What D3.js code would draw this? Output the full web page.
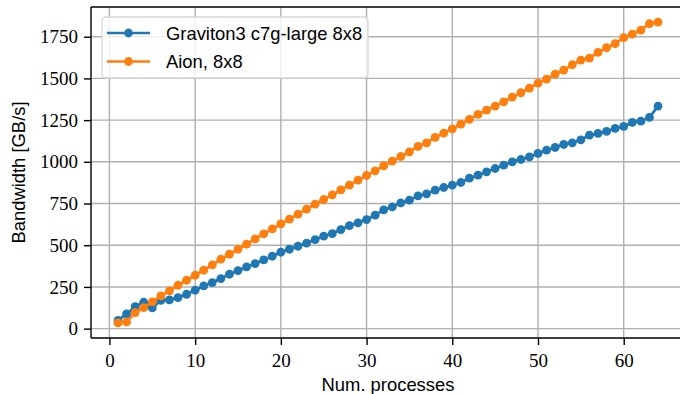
<!DOCTYPE html>
<html>
<head>
<meta charset="utf-8">
<script src="https://cdn.jsdelivr.net/npm/d3@7"></script>
<style>
  html, body { margin: 0; padding: 0; background: #fff; }
  svg { display: block; }
  .tick-label { font-family: "Liberation Serif", "DejaVu Serif", serif; font-size: 19px; fill: #000; }
  .axis-label, .legend-text { font-family: "Liberation Sans", "DejaVu Sans", sans-serif; font-size: 18.4px; fill: #000; }
</style>
</head>
<body>
<div id="chart"></div>
<script>
// processes 1..64
var processes = d3.range(1, 65);

// Graviton3 c7g-large 8x8
var graviton = [50, 88, 132, 158, 124, 170, 172, 186, 206, 230,
  256, 276, 300, 326, 348, 370, 390, 412, 434, 458,
  476, 494, 512, 534, 554, 570, 594, 618, 634, 654,
  680, 712, 730, 754, 770, 796, 808, 830, 846, 860,
  876, 902, 920, 940, 960, 980, 1000, 1014, 1030, 1050,
  1070, 1086, 1104, 1114, 1132, 1160, 1170, 1182, 1200, 1212,
  1236, 1244, 1266, 1334];

// Aion, 8x8
var aion = [34, 40, 96, 126, 160, 196, 226, 260, 290, 320,
  350, 382, 416, 446, 476, 506, 538, 568, 598, 628,
  656, 686, 716, 746, 774, 802, 832, 860, 890, 918,
  946, 976, 1004, 1032, 1060, 1092, 1114, 1146, 1172, 1198,
  1226, 1254, 1284, 1310, 1334, 1360, 1388, 1414, 1442, 1472,
  1496, 1526, 1550, 1582, 1610, 1622, 1656, 1684, 1708, 1744,
  1766, 1790, 1828, 1838];

var seriesNames = ["Graviton3 c7g-large 8x8", "Aion, 8x8"];
var seriesColors = ["#1f77b4", "#ff7f0e"];
var xTicks = [0, 10, 20, 30, 40, 50, 60];
var yTicks = [0, 250, 500, 750, 1000, 1250, 1500, 1750];

var svgWidth = 680;
var svgHeight = 394;

// axes box (right side runs past the picture edge, as in the reference)
var plotLeft = 91, plotRight = 685, plotTop = 7, plotBottom = 338;

var svg = d3.select("#chart")
  .append("svg")
  .attr("width", svgWidth)
  .attr("height", svgHeight);

// matplotlib-like 5% margins
var xExt = d3.extent(processes);
var xPad = (xExt[1] - xExt[0]) * 0.05;
var xScale = d3.scaleLinear()
  .domain([xExt[0] - xPad, xExt[1] + xPad])
  .range([plotLeft, plotRight]);

var yMin = d3.min(graviton.concat(aion));
var yMax = d3.max(graviton.concat(aion));
var yPad = (yMax - yMin) * 0.05;
var yScale = d3.scaleLinear()
  .domain([yMin - yPad, yMax + yPad])
  .range([plotBottom, plotTop]);

// grid
var grid = svg.append("g").attr("stroke", "#b0b0b0").attr("stroke-width", 1.4);
grid.selectAll(".vgrid")
  .data(xTicks)
  .enter()
  .append("line")
  .attr("x1", d => xScale(d)).attr("x2", d => xScale(d))
  .attr("y1", plotTop).attr("y2", plotBottom);
grid.selectAll(".hgrid")
  .data(yTicks)
  .enter()
  .append("line")
  .attr("x1", plotLeft).attr("x2", plotRight)
  .attr("y1", d => yScale(d)).attr("y2", d => yScale(d));

// series
var line = d3.line()
  .x((d, i) => xScale(processes[i]))
  .y(d => yScale(d));

[graviton, aion].forEach(function(values, k) {
  var g = svg.append("g");
  g.append("path")
    .datum(values)
    .attr("d", line)
    .attr("fill", "none")
    .attr("stroke", seriesColors[k])
    .attr("stroke-width", 2.7)
    .attr("stroke-linejoin", "round");
  g.selectAll("circle")
    .data(values)
    .enter()
    .append("circle")
    .attr("cx", (d, i) => xScale(processes[i]))
    .attr("cy", d => yScale(d))
    .attr("r", 4.4)
    .attr("fill", seriesColors[k]);
});

// axes
var xAxis = d3.axisBottom(xScale).tickValues(xTicks).tickFormat(d3.format("d")).tickSize(7).tickSizeOuter(0);
var yAxis = d3.axisLeft(yScale).tickValues(yTicks).tickFormat(d3.format("d")).tickSize(7).tickSizeOuter(0);

var xAxisG = svg.append("g")
  .attr("transform", `translate(0, ${plotBottom})`)
  .call(xAxis);
xAxisG.select(".domain").remove();
xAxisG.selectAll("line").attr("stroke", "#000").attr("stroke-width", 1.4);
xAxisG.selectAll("text")
  .attr("class", "tick-label")
  .attr("dy", null)
  .attr("y", 29);
xAxisG.attr("font-family", null).attr("font-size", null);

var yAxisG = svg.append("g")
  .attr("transform", `translate(${plotLeft}, 0)`)
  .call(yAxis);
yAxisG.select(".domain").remove();
yAxisG.selectAll("line").attr("stroke", "#000").attr("stroke-width", 1.4);
yAxisG.selectAll("text")
  .attr("class", "tick-label")
  .attr("dy", "0.32em")
  .attr("x", -13);
yAxisG.attr("font-family", null).attr("font-size", null);

// spines
var spines = svg.append("g").attr("stroke", "#000").attr("stroke-width", 1.4).attr("fill", "none");
spines.append("line").attr("x1", plotLeft).attr("x2", plotLeft).attr("y1", plotTop).attr("y2", plotBottom);
spines.append("line").attr("x1", plotLeft).attr("x2", plotRight).attr("y1", plotBottom).attr("y2", plotBottom);
spines.append("line").attr("x1", plotLeft).attr("x2", plotRight).attr("y1", plotTop).attr("y2", plotTop);
spines.append("line").attr("x1", plotRight).attr("x2", plotRight).attr("y1", plotTop).attr("y2", plotBottom);

// axis labels
svg.append("text")
  .attr("class", "axis-label")
  .attr("x", (plotLeft + plotRight) / 2)
  .attr("y", 391)
  .attr("text-anchor", "middle")
  .text("Num. processes");

svg.append("text")
  .attr("class", "axis-label")
  .attr("transform", `translate(25, ${(plotTop + plotBottom) / 2}) rotate(-90)`)
  .attr("text-anchor", "middle")
  .text("Bandwidth [GB/s]");

// legend
var legend = svg.append("g");
legend.append("rect")
  .attr("x", 102).attr("y", 17)
  .attr("width", 266).attr("height", 61)
  .attr("rx", 4)
  .attr("fill", "#fff").attr("fill-opacity", 0.8)
  .attr("stroke", "#d6d6d6").attr("stroke-width", 1.3);

var legendRows = [33, 61.5];
seriesNames.forEach(function(name, k) {
  var yy = legendRows[k];
  legend.append("line")
    .attr("x1", 107).attr("x2", 150)
    .attr("y1", yy).attr("y2", yy)
    .attr("stroke", seriesColors[k]).attr("stroke-width", 2.7);
  legend.append("circle")
    .attr("cx", 128.5).attr("cy", yy).attr("r", 4.4)
    .attr("fill", seriesColors[k]);
  legend.append("text")
    .attr("class", "legend-text")
    .attr("x", 166)
    .attr("y", yy + 6.5)
    .text(name);
});
</script>
</body>
</html>
